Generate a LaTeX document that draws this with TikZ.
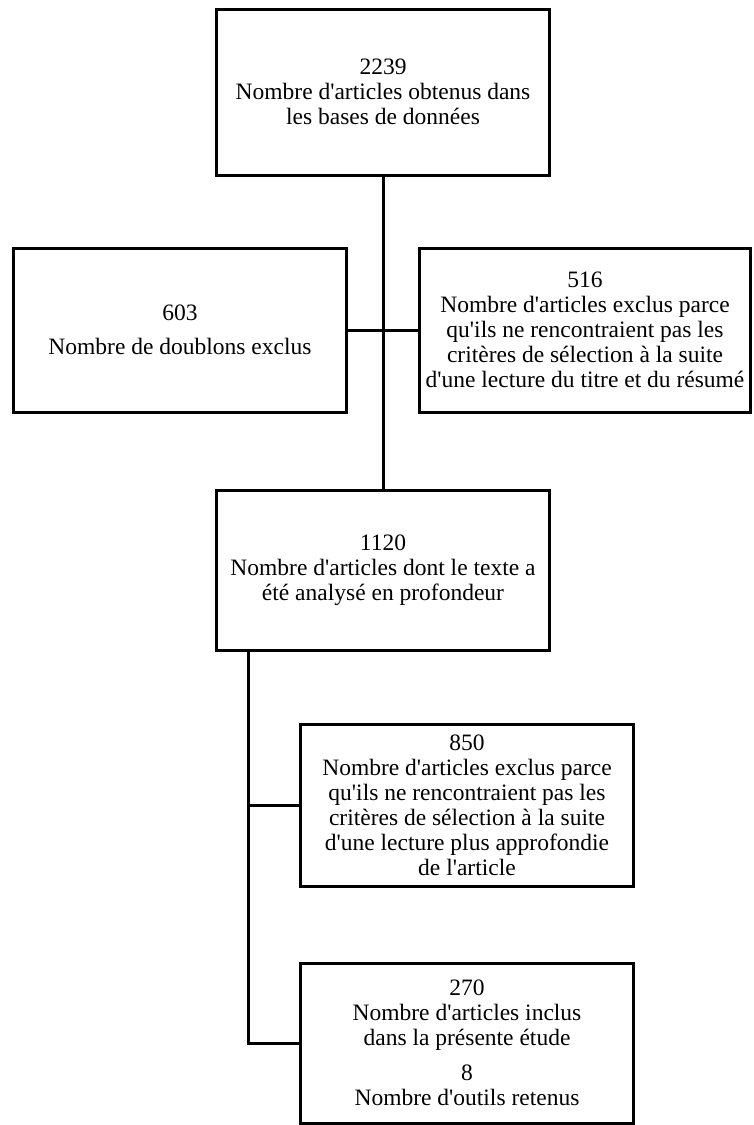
\documentclass[tikz,border=0pt]{standalone}
\usepackage{fontspec}
\setmainfont{Liberation Serif}
\usetikzlibrary{positioning}

\newcommand{\apos}{\textquotesingle}

\tikzset{
  stagebox/.style={draw, line width=3pt, fill=white, rectangle, align=center,
    minimum width=333pt, inner sep=0pt,
    font=\fontsize{23.5}{25}\selectfont},
  link/.style={line width=3pt}
}

\begin{document}
\begin{tikzpicture}[x=1pt,y=-1pt]
            \useasboundingbox (0,0) rectangle (753,1125);

            \node[stagebox, minimum height=166pt] (obtenus) at (383,92)
                {2239\\Nombre d\apos articles obtenus dans\\les bases de données};
            \node[stagebox, minimum height=164pt] (doublons) at (180,330)
                {603\\[9pt]Nombre de doublons exclus};
            \node[stagebox, minimum height=164pt, minimum width=331pt] (resume) at (585,330)
                {516\\Nombre d\apos articles exclus parce\\qu\apos ils ne rencontraient pas les\\critères de sélection à la suite\\d\apos une lecture du titre et du résumé};
            \node[stagebox, minimum height=160pt] (analyse) at (383,570)
                {1120\\Nombre d\apos articles dont le texte a\\été analysé en profondeur};
            \node[stagebox, minimum height=162pt] (approf) at (467,805)
                {850\\Nombre d\apos articles exclus parce\\qu\apos ils ne rencontraient pas les\\critères de sélection à la suite\\d\apos une lecture plus approfondie\\de l\apos article};
            \node[stagebox, minimum height=160pt] (inclus) at (467,1043)
                {270\\Nombre d\apos articles inclus\\dans la présente étude\\[10pt]8\\Nombre d\apos outils retenus};

            \coordinate (split) at (248,651);

            \draw[link] (obtenus) -- (analyse);
            \draw[link] (doublons) -- (resume);
            \draw[link] (split) |- (inclus);
            \draw[link] (split |- approf.west) -- (approf);
        \end{tikzpicture}
\end{document}
